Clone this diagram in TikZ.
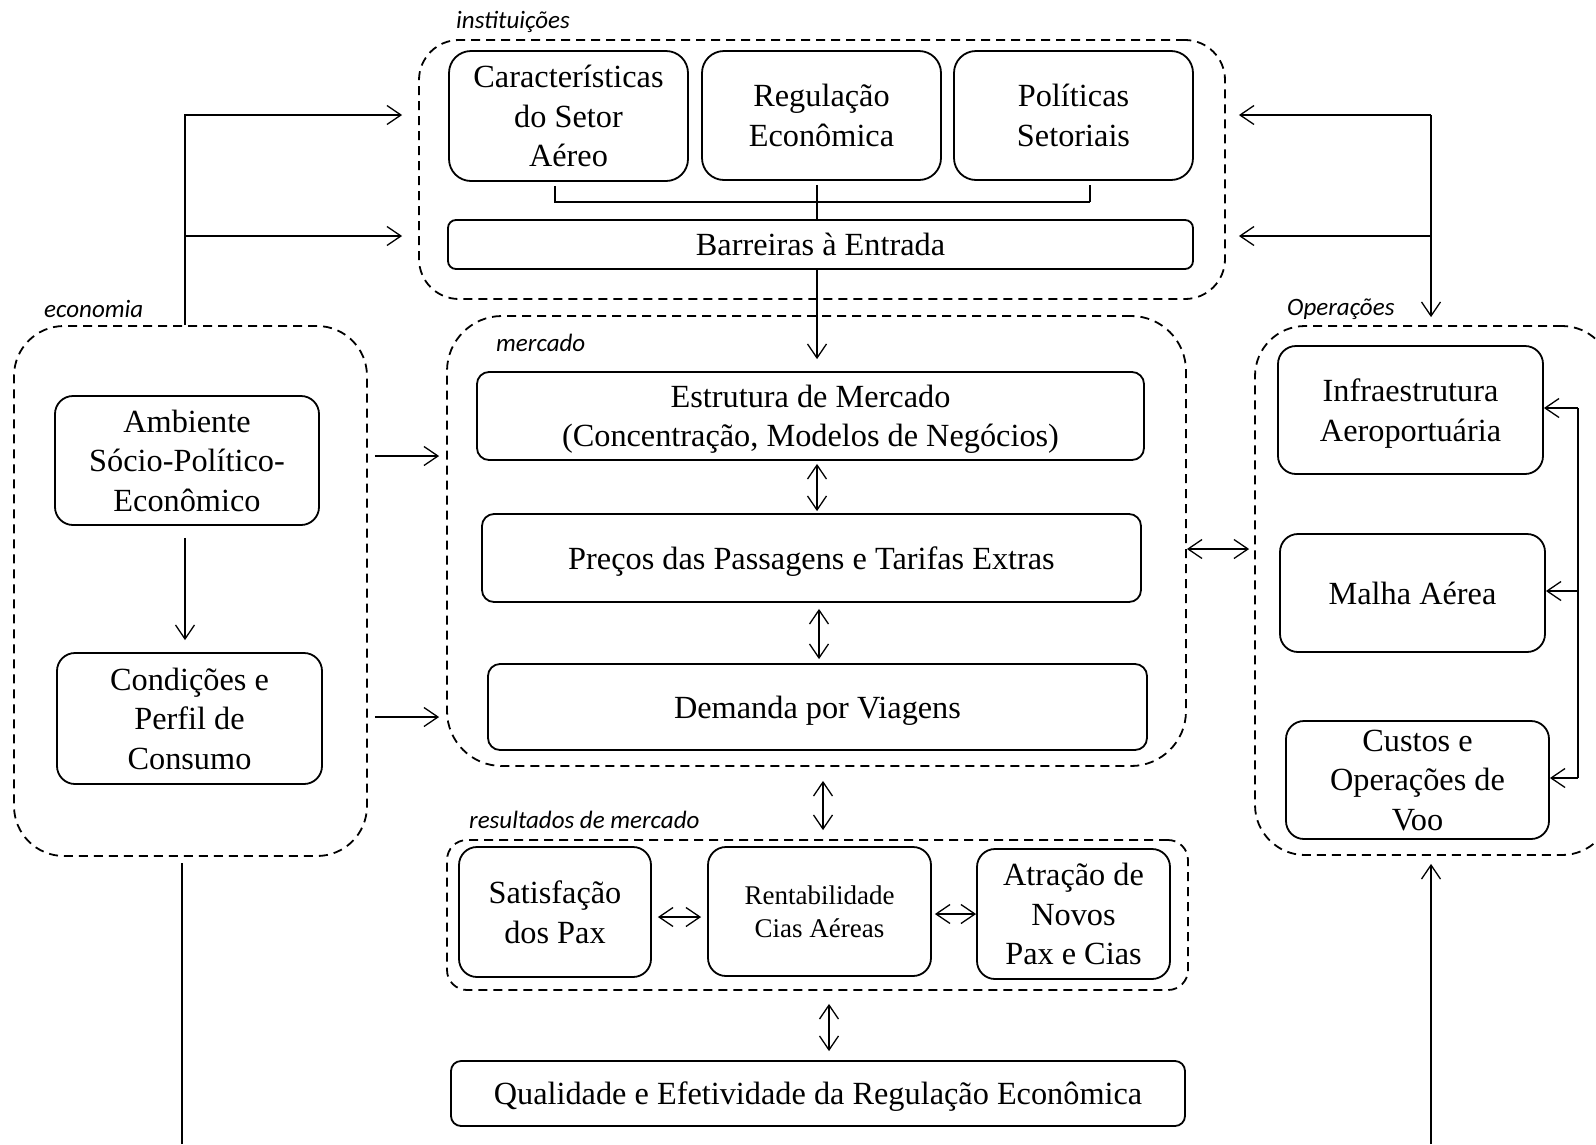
\documentclass[tikz,border=0pt]{standalone}
\usepackage{fontspec}
\setmainfont{Liberation Serif}
\newfontfamily\labfont{Carlito}
\usetikzlibrary{arrows.meta}
\begin{document}
\begin{tikzpicture}[x=1pt,y=-1pt,
  box/.style={draw, line width=1.8pt, rounded corners=18pt, align=center, inner sep=2pt, text depth=-8pt, font=\fontsize{32.3}{39.5}\selectfont},
  group/.style={draw, dash pattern=on 9pt off 6pt, line width=1.8pt},
  lab/.style={anchor=west, inner sep=0pt, font=\labfont\itshape\fontsize{25}{30}\selectfont},
  conn/.style={line width=1.3pt},
  arr/.style={conn, -{Straight Barb[length=14pt,width=19pt]}},
  darr/.style={conn, {Straight Barb[length=14pt,width=19pt]}-{Straight Barb[length=14pt,width=19pt]}},
]
\useasboundingbox (0,0) rectangle (1596,1144);

% groups
\node[group, rounded corners=40pt, minimum width=806pt, minimum height=259pt] (inst) at (822,169.5) {};
\node[group, rounded corners=50pt, minimum width=353pt, minimum height=530pt] (econ) at (190.5,591) {};
\node[group, rounded corners=55pt, minimum width=739pt, minimum height=450pt] (merc) at (816.5,541) {};
\node[group, rounded corners=50pt, minimum width=357pt, minimum height=529pt] (oper) at (1433.5,590.5) {};
\node[group, rounded corners=20pt, minimum width=741pt, minimum height=150pt] (res) at (817.5,915) {};

% group labels
\node[lab] (linst) at (456,22) {instituições};
\node[lab] (lecon) at (44,309) {economia};
\node[lab] (lmerc) at (496,343) {mercado};
\node[lab] (loper) at (1287,309) {Operações};
\node[lab] (lres) at (469,820) {resultados de mercado};

% institutions
\node[box, rounded corners=22pt, minimum width=239pt, minimum height=130pt] (carac) at (568.5,116) {Características\\do Setor\\Aéreo};
\node[box, rounded corners=22pt, minimum width=239pt, minimum height=129pt] (regul) at (821.5,115.5) {Regulação\\Econômica};
\node[box, rounded corners=22pt, minimum width=239pt, minimum height=129pt] (polit) at (1073.5,115.5) {Políticas\\Setoriais};
\node[box, rounded corners=8pt, minimum width=745pt, minimum height=49pt] (barr) at (820.5,244.5) {Barreiras à Entrada};

% economia
\node[box, minimum width=264pt, minimum height=129pt] (amb) at (187,460.5) {Ambiente\\Sócio-Político-\\Econômico};
\node[box, minimum width=265pt, minimum height=131pt] (cond) at (189.5,718.5) {Condições e\\Perfil de\\Consumo};

% mercado
\node[box, rounded corners=12pt, minimum width=667pt, minimum height=88pt] (estr) at (810.5,416) {Estrutura de Mercado\\(Concentração, Modelos de Negócios)};
\node[box, rounded corners=12pt, minimum width=659pt, minimum height=88pt] (prec) at (811.5,558) {Preços das Passagens e Tarifas Extras};
\node[box, rounded corners=12pt, minimum width=659pt, minimum height=86pt] (dem) at (817.5,707) {Demanda por Viagens};

% operacoes
\node[box, minimum width=265pt, minimum height=128pt] (infra) at (1410.5,410) {Infraestrutura\\Aeroportuária};
\node[box, minimum width=265pt, minimum height=118pt] (malha) at (1412.5,593) {Malha Aérea};
\node[box, minimum width=263pt, minimum height=118pt] (custos) at (1417.5,780) {Custos e\\Operações de\\Voo};

% resultados
\node[box, minimum width=192pt, minimum height=130pt] (sat) at (555,912) {Satisfação\\dos Pax};
\node[box, minimum width=223pt, minimum height=129pt, font=\fontsize{27}{33.5}\selectfont] (rent) at (819.5,911.5) {Rentabilidade\\Cias Aéreas};
\node[box, minimum width=193pt, minimum height=130pt] (atr) at (1073.5,914) {Atração de\\Novos\\Pax e Cias};

\node[box, rounded corners=10pt, minimum width=734pt, minimum height=65pt] (qual) at (818,1093.5) {Qualidade e Efetividade da Regulação Econômica};

% coordinates
\coordinate (ltop) at (185,115);
\coordinate (lmid) at (185,236);
\coordinate (rtop) at (1431,115);
\coordinate (rmid) at (1431,236);
\coordinate (bl) at (555,202);
\coordinate (br) at (1090,202);
\coordinate (mx) at (817,0);
\coordinate (mx2) at (819,0);
\coordinate (mx3) at (823,0);
\coordinate (mx4) at (829,0);
\coordinate (bt) at (1578,408);
\coordinate (bm) at (1578,591);
\coordinate (bb) at (1578,778);
\coordinate (lb) at (182,1144);
\coordinate (rb) at (1431,1144);
\coordinate (ea) at (0,456);
\coordinate (eb) at (0,717);
\coordinate (ey) at (0,549);
\coordinate (sy) at (0,917);
\coordinate (ry) at (0,914);

% top connectors
\draw[arr, shorten >=16pt] (econ.north -| ltop) -- (ltop) -- (inst.west |- ltop);
\draw[arr, shorten >=16pt] (lmid) -- (inst.west |- lmid);
\draw[arr, shorten >=13pt] (rtop) -- (inst.east |- rtop);
\draw[arr, shorten >=13pt] (rmid) -- (inst.east |- rmid);
\draw[arr, shorten >=8pt] (rtop) -- (oper.north -| rtop);

% bracket in institutions
\draw[conn, shorten <=4pt] (carac.south -| bl) -- (bl) -- (br);
\draw[conn, shorten >=4pt] (br) -- (polit.south -| br);
\draw[conn, shorten <=4pt] (regul.south -| mx) -- (barr.north -| mx);
\draw[arr, shorten >=12pt] (barr.south -| mx) -- (estr.north -| mx);

% economia
\draw[arr, shorten <=12pt, shorten >=12pt] (amb.south -| ltop) -- (cond.north -| ltop);
\draw[arr, shorten <=7pt, shorten >=7pt] (econ.east |- ea) -- (merc.west |- ea);
\draw[arr, shorten <=7pt, shorten >=7pt] (econ.east |- eb) -- (merc.west |- eb);
\draw[conn, shorten >=6pt] (lb) -- (econ.south -| lb);

% mercado
\draw[darr, shorten <=3pt, shorten >=2pt] (estr.south -| mx) -- (prec.north -| mx);
\draw[darr, shorten <=6pt, shorten >=4pt] (prec.south -| mx2) -- (dem.north -| mx2);
\draw[darr, shorten >=5pt] (merc.east |- ey) -- (oper.west |- ey);
\draw[darr, shorten <=14pt, shorten >=9pt] (merc.south -| mx3) -- (res.north -| mx3);

% operacoes
\draw[conn] (bt) -- (bb);
\draw[arr] (bt) -- (infra.east |- bt);
\draw[arr] (bm) -- (malha.east |- bm);
\draw[arr] (bb) -- (custos.east |- bb);
\draw[arr, shorten >=8pt] (rb) -- (oper.south -| rb);

% resultados
\draw[darr, shorten <=6pt, shorten >=6pt] (sat.east |- sy) -- (rent.west |- sy);
\draw[darr, shorten <=3pt] (rent.east |- ry) -- (atr.west |- ry);
\draw[darr, shorten <=13pt, shorten >=9pt] (res.south -| mx4) -- (qual.north -| mx4);
\end{tikzpicture}
\end{document}
